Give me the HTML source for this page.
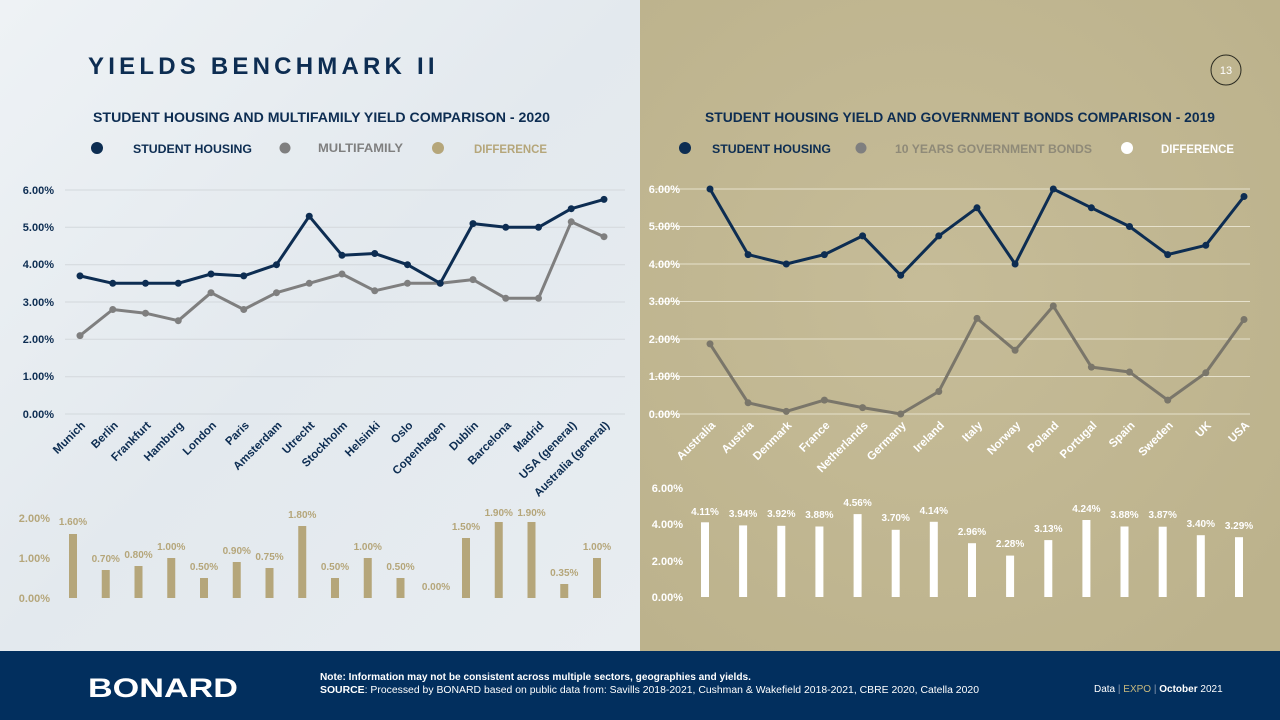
<!DOCTYPE html>
<html><head><meta charset="utf-8"><style>
html,body{margin:0;padding:0;width:1280px;height:720px;overflow:hidden}
svg{display:block;font-family:"Liberation Sans",sans-serif}
</style></head><body>
<svg width="1280" height="720" viewBox="0 0 1280 720" xmlns="http://www.w3.org/2000/svg">
<defs>
<linearGradient id="lg" x1="0" y1="0" x2="1" y2="1">
<stop offset="0" stop-color="#eef2f5"/><stop offset="0.5" stop-color="#e3e9ee"/><stop offset="1" stop-color="#e8edf1"/>
</linearGradient>
<radialGradient id="rg" cx="0.45" cy="0.45" r="0.7">
<stop offset="0" stop-color="#c6bc98"/><stop offset="1" stop-color="#bcb28c"/>
</radialGradient>
</defs>
<rect x="0" y="0" width="640" height="651" fill="url(#lg)"/>
<rect x="640" y="0" width="640" height="651" fill="url(#rg)"/>
<rect x="0" y="651" width="1280" height="69" fill="#022f5e"/>

<!-- Title -->
<text x="88" y="74" font-size="24" font-weight="bold" fill="#0d2d52" letter-spacing="3.5" textLength="350" lengthAdjust="spacing">YIELDS BENCHMARK II</text>
<circle cx="1226" cy="70" r="15" fill="none" stroke="#2a2a20" stroke-width="1"/>
<text x="1226" y="74" font-size="11" fill="#fff" text-anchor="middle">13</text>

<!-- Left headings -->
<text x="93" y="122" font-size="14" font-weight="bold" fill="#0d2d52" textLength="457" lengthAdjust="spacingAndGlyphs">STUDENT HOUSING AND MULTIFAMILY YIELD COMPARISON - 2020</text>
<circle cx="97" cy="148" r="6" fill="#0d2d52"/>
<text x="133" y="153" font-size="12" font-weight="bold" fill="#0d2d52" textLength="119" lengthAdjust="spacingAndGlyphs">STUDENT HOUSING</text>
<circle cx="285" cy="148" r="5.5" fill="#7f7f7f"/>
<text x="318" y="152" font-size="12" font-weight="bold" fill="#7f7f7f" textLength="85" lengthAdjust="spacingAndGlyphs">MULTIFAMILY</text>
<circle cx="438" cy="148" r="6" fill="#b5a67a"/>
<text x="474" y="153" font-size="12" font-weight="bold" fill="#b5a67a" textLength="73" lengthAdjust="spacingAndGlyphs">DIFFERENCE</text>

<!-- Right headings -->
<text x="705" y="122" font-size="14" font-weight="bold" fill="#0d2d52" textLength="510" lengthAdjust="spacingAndGlyphs">STUDENT HOUSING YIELD AND GOVERNMENT BONDS COMPARISON - 2019</text>
<circle cx="685" cy="148" r="6" fill="#0d2d52"/>
<text x="712" y="153" font-size="12" font-weight="bold" fill="#0d2d52" textLength="119" lengthAdjust="spacingAndGlyphs">STUDENT HOUSING</text>
<circle cx="861" cy="148" r="5.5" fill="#7f7f7f"/>
<text x="895" y="153" font-size="12" font-weight="bold" fill="#8f8a78" textLength="197" lengthAdjust="spacingAndGlyphs">10 YEARS GOVERNMENT BONDS</text>
<circle cx="1127" cy="148" r="6" fill="#fff"/>
<text x="1161" y="153" font-size="12" font-weight="bold" fill="#fff" textLength="73" lengthAdjust="spacingAndGlyphs">DIFFERENCE</text>

<!-- Left line chart -->
<g stroke="#d3d8dc" stroke-width="1">
<line x1="65" y1="190" x2="625" y2="190"/><line x1="65" y1="227.3" x2="625" y2="227.3"/>
<line x1="65" y1="264.7" x2="625" y2="264.7"/><line x1="65" y1="302" x2="625" y2="302"/>
<line x1="65" y1="339.3" x2="625" y2="339.3"/><line x1="65" y1="376.7" x2="625" y2="376.7"/>
<line x1="65" y1="414" x2="625" y2="414"/>
</g>
<g font-size="11" fill="#0d2d52" font-weight="bold" text-anchor="end">
<text x="54" y="194">6.00%</text><text x="54" y="231">5.00%</text><text x="54" y="268">4.00%</text>
<text x="54" y="306">3.00%</text><text x="54" y="343">2.00%</text><text x="54" y="380">1.00%</text><text x="54" y="418">0.00%</text>
</g>
<polyline fill="none" stroke="#7f7f7f" stroke-width="3" stroke-linejoin="round" points="80,335.6 112.75,309.5 145.5,313.2 178.25,320.7 211,292.7 243.75,309.5 276.5,292.7 309.25,283.3 342,274 374.75,290.8 407.5,283.3 440.25,283.3 473,279.6 505.75,298.3 538.5,298.3 571.25,221.8 604,236.7"/>
<g fill="#7f7f7f"><circle cx="80" cy="335.6" r="3.5"/><circle cx="112.75" cy="309.5" r="3.5"/><circle cx="145.5" cy="313.2" r="3.5"/><circle cx="178.25" cy="320.7" r="3.5"/><circle cx="211" cy="292.7" r="3.5"/><circle cx="243.75" cy="309.5" r="3.5"/><circle cx="276.5" cy="292.7" r="3.5"/><circle cx="309.25" cy="283.3" r="3.5"/><circle cx="342" cy="274" r="3.5"/><circle cx="374.75" cy="290.8" r="3.5"/><circle cx="407.5" cy="283.3" r="3.5"/><circle cx="440.25" cy="283.3" r="3.5"/><circle cx="473" cy="279.6" r="3.5"/><circle cx="505.75" cy="298.3" r="3.5"/><circle cx="538.5" cy="298.3" r="3.5"/><circle cx="571.25" cy="221.8" r="3.5"/><circle cx="604" cy="236.7" r="3.5"/></g>
<polyline fill="none" stroke="#0d2d52" stroke-width="3" stroke-linejoin="round" points="80,275.9 112.75,283.3 145.5,283.3 178.25,283.3 211,274 243.75,275.9 276.5,264.7 309.25,216.2 342,255.3 374.75,253.5 407.5,264.7 440.25,283.3 473,223.6 505.75,227.3 538.5,227.3 571.25,208.7 604,199.4"/>
<g fill="#0d2d52"><circle cx="80" cy="275.9" r="3.5"/><circle cx="112.75" cy="283.3" r="3.5"/><circle cx="145.5" cy="283.3" r="3.5"/><circle cx="178.25" cy="283.3" r="3.5"/><circle cx="211" cy="274" r="3.5"/><circle cx="243.75" cy="275.9" r="3.5"/><circle cx="276.5" cy="264.7" r="3.5"/><circle cx="309.25" cy="216.2" r="3.5"/><circle cx="342" cy="255.3" r="3.5"/><circle cx="374.75" cy="253.5" r="3.5"/><circle cx="407.5" cy="264.7" r="3.5"/><circle cx="440.25" cy="283.3" r="3.5"/><circle cx="473" cy="223.6" r="3.5"/><circle cx="505.75" cy="227.3" r="3.5"/><circle cx="538.5" cy="227.3" r="3.5"/><circle cx="571.25" cy="208.7" r="3.5"/><circle cx="604" cy="199.4" r="3.5"/></g>
<g font-size="11.5" font-weight="bold" fill="#0d2d52" text-anchor="end">
<text transform="translate(86,426) rotate(-45)">Munich</text>
<text transform="translate(118.75,426) rotate(-45)">Berlin</text>
<text transform="translate(151.5,426) rotate(-45)">Frankfurt</text>
<text transform="translate(184.25,426) rotate(-45)">Hamburg</text>
<text transform="translate(217,426) rotate(-45)">London</text>
<text transform="translate(249.75,426) rotate(-45)">Paris</text>
<text transform="translate(282.5,426) rotate(-45)">Amsterdam</text>
<text transform="translate(315.25,426) rotate(-45)">Utrecht</text>
<text transform="translate(348,426) rotate(-45)">Stockholm</text>
<text transform="translate(380.75,426) rotate(-45)">Helsinki</text>
<text transform="translate(413.5,426) rotate(-45)">Oslo</text>
<text transform="translate(446.25,426) rotate(-45)">Copenhagen</text>
<text transform="translate(479,426) rotate(-45)">Dublin</text>
<text transform="translate(511.75,426) rotate(-45)">Barcelona</text>
<text transform="translate(544.5,426) rotate(-45)">Madrid</text>
<text transform="translate(577.25,426) rotate(-45)">USA (general)</text>
<text transform="translate(610,426) rotate(-45)">Australia (general)</text>
</g>

<!-- Left bars -->
<g font-size="11" fill="#b5a67a" font-weight="bold" text-anchor="end">
<text x="50" y="522">2.00%</text><text x="50" y="562">1.00%</text><text x="50" y="602">0.00%</text>
</g>
<g fill="#b5a67a">
<rect x="69" y="534" width="8" height="64"/><rect x="101.75" y="570" width="8" height="28"/><rect x="134.5" y="566" width="8" height="32"/><rect x="167.25" y="558" width="8" height="40"/><rect x="200" y="578" width="8" height="20"/><rect x="232.75" y="562" width="8" height="36"/><rect x="265.5" y="568" width="8" height="30"/><rect x="298.25" y="526" width="8" height="72"/><rect x="331" y="578" width="8" height="20"/><rect x="363.75" y="558" width="8" height="40"/><rect x="396.5" y="578" width="8" height="20"/><rect x="462" y="538" width="8" height="60"/><rect x="494.75" y="522" width="8" height="76"/><rect x="527.5" y="522" width="8" height="76"/><rect x="560.25" y="584" width="8" height="14"/><rect x="593" y="558" width="8" height="40"/>
</g>
<g font-size="10" fill="#b5a67a" font-weight="bold" text-anchor="middle">
<text x="73" y="525">1.60%</text><text x="105.75" y="562">0.70%</text><text x="138.5" y="558">0.80%</text><text x="171.25" y="550">1.00%</text><text x="204" y="570">0.50%</text><text x="236.75" y="554">0.90%</text><text x="269.5" y="560">0.75%</text><text x="302.25" y="518">1.80%</text><text x="335" y="570">0.50%</text><text x="367.75" y="550">1.00%</text><text x="400.5" y="570">0.50%</text><text x="436" y="590">0.00%</text><text x="466" y="530">1.50%</text><text x="498.75" y="516">1.90%</text><text x="531.5" y="516">1.90%</text><text x="564.25" y="576">0.35%</text><text x="597" y="550">1.00%</text>
</g>

<!-- Right line chart -->
<g stroke="#e6e1cc" stroke-width="1">
<line x1="655" y1="189" x2="1250" y2="189"/><line x1="655" y1="226.5" x2="1250" y2="226.5"/>
<line x1="655" y1="264" x2="1250" y2="264"/><line x1="655" y1="301.5" x2="1250" y2="301.5"/>
<line x1="655" y1="339" x2="1250" y2="339"/><line x1="655" y1="376.5" x2="1250" y2="376.5"/>
<line x1="655" y1="414" x2="1250" y2="414"/>
</g>
<g font-size="11" fill="#fff" font-weight="bold" text-anchor="end">
<text x="680" y="193">6.00%</text><text x="680" y="230">5.00%</text><text x="680" y="268">4.00%</text>
<text x="680" y="305">3.00%</text><text x="680" y="343">2.00%</text><text x="680" y="380">1.00%</text><text x="680" y="418">0.00%</text>
</g>
<polyline fill="none" stroke="#7a766a" stroke-width="3" stroke-linejoin="round" points="710,343.9 748.1,402.8 786.3,411.4 824.4,400.1 862.6,407.6 900.7,414 938.8,391.5 977,318.4 1015.1,350.3 1053.3,306 1091.4,367.1 1129.5,372 1167.7,400.1 1205.8,372.8 1244,319.5"/>
<g fill="#7a766a"><circle cx="710" cy="343.9" r="3.5"/><circle cx="748.1" cy="402.8" r="3.5"/><circle cx="786.3" cy="411.4" r="3.5"/><circle cx="824.4" cy="400.1" r="3.5"/><circle cx="862.6" cy="407.6" r="3.5"/><circle cx="900.7" cy="414" r="3.5"/><circle cx="938.8" cy="391.5" r="3.5"/><circle cx="977" cy="318.4" r="3.5"/><circle cx="1015.1" cy="350.3" r="3.5"/><circle cx="1053.3" cy="306" r="3.5"/><circle cx="1091.4" cy="367.1" r="3.5"/><circle cx="1129.5" cy="372" r="3.5"/><circle cx="1167.7" cy="400.1" r="3.5"/><circle cx="1205.8" cy="372.8" r="3.5"/><circle cx="1244" cy="319.5" r="3.5"/></g>
<polyline fill="none" stroke="#0d2d52" stroke-width="3" stroke-linejoin="round" points="710,189 748.1,254.6 786.3,264 824.4,254.6 862.6,235.9 900.7,275.3 938.8,235.9 977,207.8 1015.1,264 1053.3,189 1091.4,207.8 1129.5,226.5 1167.7,254.6 1205.8,245.3 1244,196.5"/>
<g fill="#0d2d52"><circle cx="710" cy="189" r="3.5"/><circle cx="748.1" cy="254.6" r="3.5"/><circle cx="786.3" cy="264" r="3.5"/><circle cx="824.4" cy="254.6" r="3.5"/><circle cx="862.6" cy="235.9" r="3.5"/><circle cx="900.7" cy="275.3" r="3.5"/><circle cx="938.8" cy="235.9" r="3.5"/><circle cx="977" cy="207.8" r="3.5"/><circle cx="1015.1" cy="264" r="3.5"/><circle cx="1053.3" cy="189" r="3.5"/><circle cx="1091.4" cy="207.8" r="3.5"/><circle cx="1129.5" cy="226.5" r="3.5"/><circle cx="1167.7" cy="254.6" r="3.5"/><circle cx="1205.8" cy="245.3" r="3.5"/><circle cx="1244" cy="196.5" r="3.5"/></g>
<g font-size="11.5" font-weight="bold" fill="#fff" text-anchor="end">
<text transform="translate(716,426) rotate(-45)">Australia</text>
<text transform="translate(754.1,426) rotate(-45)">Austria</text>
<text transform="translate(792.3,426) rotate(-45)">Denmark</text>
<text transform="translate(830.4,426) rotate(-45)">France</text>
<text transform="translate(868.6,426) rotate(-45)">Netherlands</text>
<text transform="translate(906.7,426) rotate(-45)">Germany</text>
<text transform="translate(944.8,426) rotate(-45)">Ireland</text>
<text transform="translate(983,426) rotate(-45)">Italy</text>
<text transform="translate(1021.1,426) rotate(-45)">Norway</text>
<text transform="translate(1059.3,426) rotate(-45)">Poland</text>
<text transform="translate(1097.4,426) rotate(-45)">Portugal</text>
<text transform="translate(1135.5,426) rotate(-45)">Spain</text>
<text transform="translate(1173.7,426) rotate(-45)">Sweden</text>
<text transform="translate(1211.8,426) rotate(-45)">UK</text>
<text transform="translate(1250,426) rotate(-45)">USA</text>
</g>

<!-- Right bars -->
<g font-size="11" fill="#fff" font-weight="bold" text-anchor="end">
<text x="683" y="492">6.00%</text><text x="683" y="528">4.00%</text><text x="683" y="565">2.00%</text><text x="683" y="601">0.00%</text>
</g>
<g fill="#fff">
<rect x="701" y="522.3" width="8" height="74.7"/><rect x="739.1" y="525.4" width="8" height="71.6"/><rect x="777.3" y="525.8" width="8" height="71.2"/><rect x="815.4" y="526.5" width="8" height="70.5"/><rect x="853.6" y="514.1" width="8" height="82.9"/><rect x="891.7" y="529.8" width="8" height="67.2"/><rect x="929.8" y="521.8" width="8" height="75.2"/><rect x="968" y="543.2" width="8" height="53.8"/><rect x="1006.1" y="555.6" width="8" height="41.4"/><rect x="1044.3" y="540.1" width="8" height="56.9"/><rect x="1082.4" y="520" width="8" height="77"/><rect x="1120.5" y="526.5" width="8" height="70.5"/><rect x="1158.7" y="526.7" width="8" height="70.3"/><rect x="1196.8" y="535.2" width="8" height="61.8"/><rect x="1235" y="537.2" width="8" height="59.8"/>
</g>
<g font-size="10" fill="#fff" font-weight="bold" text-anchor="middle">
<text x="705" y="515">4.11%</text><text x="743.1" y="517">3.94%</text><text x="781.3" y="517">3.92%</text><text x="819.4" y="518">3.88%</text><text x="857.6" y="506">4.56%</text><text x="895.7" y="521">3.70%</text><text x="933.8" y="514">4.14%</text><text x="972" y="535">2.96%</text><text x="1010.1" y="547">2.28%</text><text x="1048.3" y="532">3.13%</text><text x="1086.4" y="512">4.24%</text><text x="1124.5" y="518">3.88%</text><text x="1162.7" y="518">3.87%</text><text x="1200.8" y="527">3.40%</text><text x="1239" y="529">3.29%</text>
</g>

<!-- Footer -->
<text x="88" y="697" font-size="27" font-weight="bold" fill="#fff" textLength="150" lengthAdjust="spacingAndGlyphs">BONARD</text>
<text x="320" y="680" font-size="10" font-weight="bold" fill="#fff" textLength="431" lengthAdjust="spacingAndGlyphs">Note: Information may not be consistent across multiple sectors, geographies and yields.</text>
<text x="320" y="693" font-size="10" fill="#fff" textLength="659" lengthAdjust="spacingAndGlyphs"><tspan font-weight="bold">SOURCE</tspan>: Processed by BONARD based on public data from: Savills 2018-2021, Cushman &amp; Wakefield 2018-2021, CBRE 2020, Catella 2020</text>
<text x="1094" y="692" font-size="10" fill="#fff">Data <tspan fill="#8a9ab0">|</tspan> <tspan fill="#c8b97d">EXPO</tspan> <tspan fill="#8a9ab0">|</tspan> <tspan font-weight="bold">October</tspan> 2021</text>
</svg>
</body></html>
